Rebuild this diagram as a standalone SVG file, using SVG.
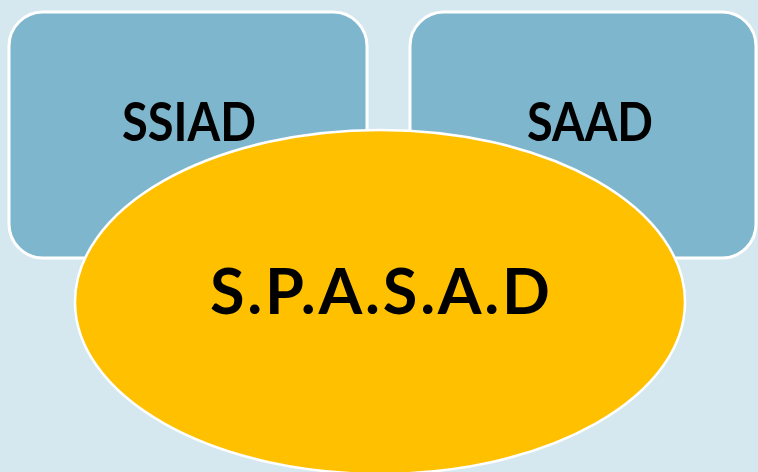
<svg xmlns="http://www.w3.org/2000/svg" width="758" height="472" viewBox="0 0 758 472">
<style>
.box{fill:#7eb7cd;stroke:#ffffff;stroke-width:3}
.oval{fill:#ffc000;stroke:#ffffff;stroke-width:2.5}
.lbl{font-family:Lato,"Liberation Sans",sans-serif;font-weight:bold;fill:#000000;text-anchor:middle}
</style>
<rect width="758" height="472" fill="#d6e8ef"/>
<g id="connectors"></g>
<g id="ssiad">
<rect class="box" x="9" y="12" width="358" height="246" rx="34" ry="34"/>
<text class="lbl" x="189" y="141" font-size="54" textLength="134" lengthAdjust="spacingAndGlyphs">SSIAD</text>
</g>
<g id="saad">
<rect class="box" x="410" y="12" width="346" height="246" rx="34" ry="34"/>
<text class="lbl" x="590" y="141" font-size="54" textLength="126" lengthAdjust="spacingAndGlyphs">SAAD</text>
</g>
<g id="spasad">
<ellipse class="oval" cx="380" cy="302" rx="305" ry="172"/>
<text class="lbl" x="380" y="314" font-size="63" textLength="340" lengthAdjust="spacing">S.P.A.S.A.D</text>
</g>
</svg>
